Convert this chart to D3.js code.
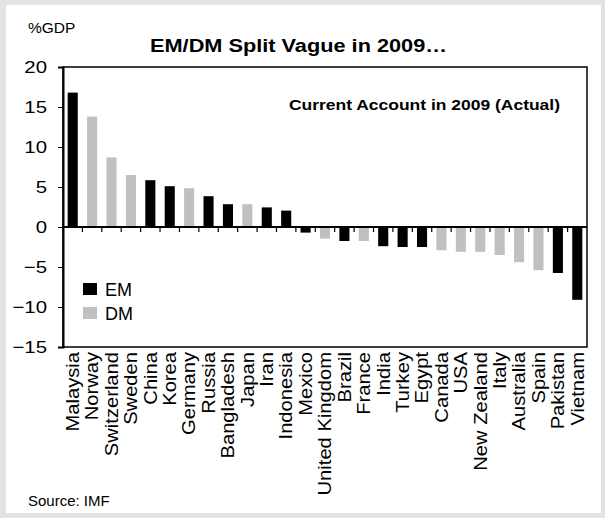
<!DOCTYPE html>
<html lang="en">
<head>
  <meta charset="utf-8">
  <title>EM/DM Split Vague in 2009</title>
  <script src="https://d3js.org/d3.v7.min.js"></script>
  <style>
  body { margin: 0; background: #e3e3e3; }
  text { font-family: "Liberation Sans", Arial, sans-serif; fill: #000; }
  </style>
</head>
<body>
<script>
// chart data
var countries = ["Malaysia", "Norway", "Switzerland", "Sweden", "China", "Korea", "Germany",
  "Russia", "Bangladesh", "Japan", "Iran", "Indonesia", "Mexico", "United Kingdom", "Brazil",
  "France", "India", "Turkey", "Egypt", "Canada", "USA", "New Zealand", "Italy", "Australia",
  "Spain", "Pakistan", "Vietnam"];
var currentAccount = [16.8, 13.8, 8.7, 6.5, 5.85, 5.1, 4.85, 3.85, 2.85, 2.85, 2.45, 2.05, -0.7,
  -1.45, -1.75, -1.75, -2.4, -2.5, -2.5, -2.9, -3.1, -3.1, -3.5, -4.4, -5.4, -5.75, -9.1];
var group = ["EM", "DM", "DM", "DM", "EM", "EM", "DM", "EM", "EM", "DM", "EM", "EM", "EM",
  "DM", "EM", "DM", "EM", "EM", "EM", "DM", "DM", "DM", "DM", "DM", "DM", "EM", "EM"];
var yTicks = [-15, -10, -5, 0, 5, 10, 15, 20];
var groups = ["EM", "DM"];

var W = 605, H = 518;
var plot = { left: 63, right: 587, top: 67, bottom: 347 };
var colour = d3.scaleOrdinal().domain(groups).range(["#000000", "#c0c0c0"]);

var svg = d3.select("body").append("svg")
  .attr("width", W)
  .attr("height", H);

// grey page with white card
svg.append("rect").attr("width", W).attr("height", H).attr("fill", "#e3e3e3");
svg.append("rect").attr("x", 6).attr("y", 5).attr("width", 595).attr("height", 508).attr("fill", "#fff");

var x = d3.scaleBand()
  .domain(countries)
  .range([plot.left, plot.right])
  .paddingInner(0.48)
  .paddingOuter(0.24);

var y = d3.scaleLinear()
  .domain([-15, 20])
  .range([plot.bottom, plot.top]);

var data = countries.map(function(c, i) {
  return { name: c, value: currentAccount[i], group: group[i] };
});

// bars
svg.selectAll("rect.bar")
  .data(data)
  .enter()
  .append("rect")
  .attr("class", "bar")
  .attr("x", function(d) { return x(d.name); })
  .attr("width", x.bandwidth())
  .attr("y", function(d) { return y(Math.max(0, d.value)); })
  .attr("height", function(d) { return Math.abs(y(d.value) - y(0)); })
  .attr("fill", function(d) { return colour(d.group); });

// plot frame
svg.append("rect")
  .attr("x", plot.left)
  .attr("y", plot.top)
  .attr("width", plot.right - plot.left)
  .attr("height", plot.bottom - plot.top)
  .attr("fill", "none")
  .attr("stroke", "#000")
  .attr("stroke-width", 1.5);

// y axis (labels are a bit wide in the original, so stretch them sideways)
var yAxis = svg.append("g")
  .attr("transform", "translate(" + plot.left + ",0)")
  .call(d3.axisLeft(y).tickValues(yTicks).tickSize(5).tickFormat(d3.format("d")));
yAxis.select(".domain").attr("stroke-width", 2);
yAxis.selectAll(".tick text")
  .attr("x", 0)
  .attr("transform", "translate(-16,0) scale(1.2,1)")
  .style("font-size", "17px")
  .style("font-family", "'Liberation Sans', Arial, sans-serif");

// zero line with category ticks
svg.append("line")
  .attr("x1", plot.left).attr("x2", plot.right)
  .attr("y1", y(0)).attr("y2", y(0))
  .attr("stroke", "#000")
  .attr("stroke-width", 2);

svg.selectAll("line.cat-tick")
  .data(countries.slice(0, -1))
  .enter()
  .append("line")
  .attr("class", "cat-tick")
  .attr("x1", function(c) { return x(c) + x.bandwidth() / 2 + x.step() / 2; })
  .attr("x2", function(c) { return x(c) + x.bandwidth() / 2 + x.step() / 2; })
  .attr("y1", y(0))
  .attr("y2", y(0) + 5)
  .attr("stroke", "#000")
  .attr("stroke-width", 1.2);

// category labels, rotated
svg.selectAll("text.cat")
  .data(countries)
  .enter()
  .append("text")
  .attr("class", "cat")
  .attr("text-anchor", "end")
  .attr("dy", "0.35em")
  .style("font-size", "18px")
  .attr("transform", function(c) {
    return "translate(" + (x(c) + x.bandwidth() / 2) + "," + (plot.bottom + 5) + ") rotate(-90) scale(1.12,1)";
  })
  .text(function(c) { return c; });

// titles
svg.append("text")
  .attr("x", 150).attr("y", 52)
  .attr("textLength", 297)
  .attr("lengthAdjust", "spacingAndGlyphs")
  .style("font-size", "18px")
  .style("font-weight", "bold")
  .text("EM/DM Split Vague in 2009\u2026");

svg.append("text")
  .attr("x", 28).attr("y", 33)
  .style("font-size", "15.5px")
  .text("%GDP");

svg.append("text")
  .attr("x", 289).attr("y", 110)
  .attr("textLength", 271)
  .attr("lengthAdjust", "spacingAndGlyphs")
  .style("font-size", "15px")
  .style("font-weight", "bold")
  .text("Current Account in 2009 (Actual)");

// legend
var legend = svg.selectAll("g.legend")
  .data(groups)
  .enter()
  .append("g")
  .attr("class", "legend")
  .attr("transform", function(d, i) { return "translate(83," + (283 + i * 24) + ")"; });
legend.append("rect")
  .attr("width", 14).attr("height", 12)
  .attr("fill", function(d) { return colour(d); });
legend.append("text")
  .attr("x", 22).attr("y", 13)
  .style("font-size", "18px")
  .text(function(d) { return d; });

// source
svg.append("text")
  .attr("x", 28).attr("y", 506)
  .style("font-size", "15px")
  .text("Source: IMF");
</script>
</body>
</html>
